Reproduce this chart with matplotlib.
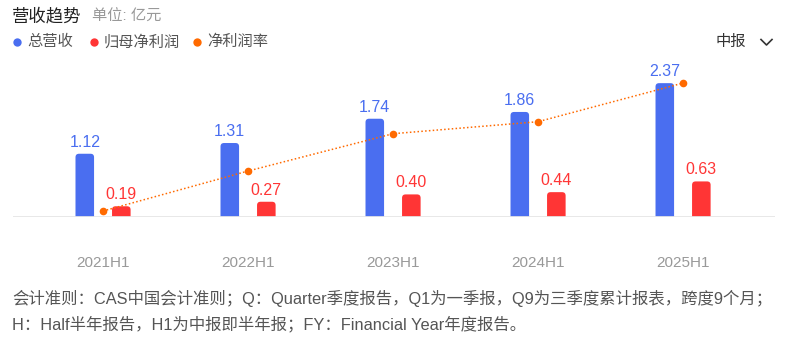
import matplotlib
matplotlib.use("Agg")
import matplotlib.pyplot as plt
from matplotlib.patches import FancyBboxPatch
from matplotlib.lines import Line2D

plt.rcParams['font.family'] = ['Liberation Sans', 'Noto Sans CJK SC', 'DejaVu Sans']

periods = ["2021H1", "2022H1", "2023H1", "2024H1", "2025H1"]
revenue = [1.12, 1.31, 1.74, 1.86, 2.37]        # 总营收 (亿元)
net_profit = [0.19, 0.27, 0.40, 0.44, 0.63]     # 归母净利润 (亿元)
net_margin = [17.0, 20.0, 22.8, 23.7, 26.6]     # 净利润率 (%)

BLUE = "#4a6ef0"
RED = "#ff3535"
ORANGE = "#ff6a00"

W, H = 785, 339
fig = plt.figure(figsize=(W / 100, H / 100), dpi=100)

# plot area in pixel terms
ax_left, ax_right, ax_top, ax_bottom = 13, 775, 60, 217
ax = fig.add_axes([ax_left / W, 1 - ax_bottom / H,
                   (ax_right - ax_left) / W, (ax_bottom - ax_top) / H])
ax.set_xlim(-0.621, 4.634)
ax.set_ylim(0, 2.78)
for s in ax.spines.values():
    s.set_visible(False)
ax.set_xticks([])
ax.set_yticks([])

bar_w = 0.128
offset = 0.126
px_x = (ax_right - ax_left) / (4.634 + 0.621)
px_y = (ax_bottom - ax_top) / 2.78
r_px = 3.5
rx = r_px / px_x
aspect = (r_px / px_y) / rx


def rounded_bar(xc, h, color):
    p = FancyBboxPatch((xc - bar_w / 2, -r_px / px_y), bar_w, h + r_px / px_y,
                       boxstyle=f"round,pad=0,rounding_size={rx}",
                       mutation_aspect=aspect, facecolor=color,
                       edgecolor="none", clip_on=True)
    ax.add_patch(p)


for i, (rv, npf) in enumerate(zip(revenue, net_profit)):
    rounded_bar(i - offset, rv, BLUE)
    rounded_bar(i + offset, npf, RED)
    ax.annotate(f"{rv:.2f}", (i - offset, rv), xytext=(0, 3),
                textcoords="offset points", ha="center", va="bottom",
                fontsize=11.5, color=BLUE)
    ax.annotate(f"{npf:.2f}", (i + offset, npf), xytext=(0, 3),
                textcoords="offset points", ha="center", va="bottom",
                fontsize=11.5, color=RED)

ax.axhline(0, color="#e6e6e6", lw=2, zorder=5)

ax2 = ax.twinx()
ax2.set_ylim(16.55, 28.33)
for s in ax2.spines.values():
    s.set_visible(False)
ax2.set_yticks([])
ax2.plot(range(len(periods)), net_margin, color=ORANGE, lw=1.1,
         linestyle=(0, (1, 1.5)), marker="o", markersize=5.5,
         markeredgewidth=0, zorder=6)

for i, p in enumerate(periods):
    fig.text((ax_left + (i + 0.621) * px_x) / W, 1 - 263 / H, p,
             ha="center", va="center", fontsize=11, color="#999999")

# header
fig.text(12 / W, 1 - 16 / H, "营收趋势", fontsize=12.5, color="#222222",
         va="center", ha="left")
fig.text(92 / W, 1 - 17 / H, "单位: 亿元", fontsize=11, color="#999999",
         va="center", ha="left")

legend_items = [(17, "总营收", BLUE), (94, "归母净利润", RED), (197, "净利润率", ORANGE)]
for x, label, c in legend_items:
    fig.add_artist(Line2D([x / W], [1 - 42 / H], marker="o", markersize=6,
                          color=c, markeredgewidth=0, linestyle="none",
                          transform=fig.transFigure))
    fig.text((x + 10) / W, 1 - 42 / H, label, fontsize=11, color="#555555",
             va="center", ha="left")

fig.text(716 / W, 1 - 42 / H, "中报", fontsize=11, color="#333333",
         va="center", ha="left")
fig.add_artist(Line2D([761 / W, 766.5 / W, 772 / W],
                      [1 - 39.5 / H, 1 - 45 / H, 1 - 39.5 / H],
                      color="#333333", lw=1.2, transform=fig.transFigure))

notes = [
    "会计准则：CAS中国会计准则；Q：Quarter季度报告，Q1为一季报，Q9为三季度累计报表，跨度9个月；",
    "H：Half半年报告，H1为中报即半年报；FY：Financial Year年度报告。",
]
for k, line in enumerate(notes):
    fig.text(12 / W, 1 - (298 + 26 * k) / H, line, fontsize=11.8,
             color="#555555", va="center", ha="left")

fig.savefig("out.png", dpi=100)
